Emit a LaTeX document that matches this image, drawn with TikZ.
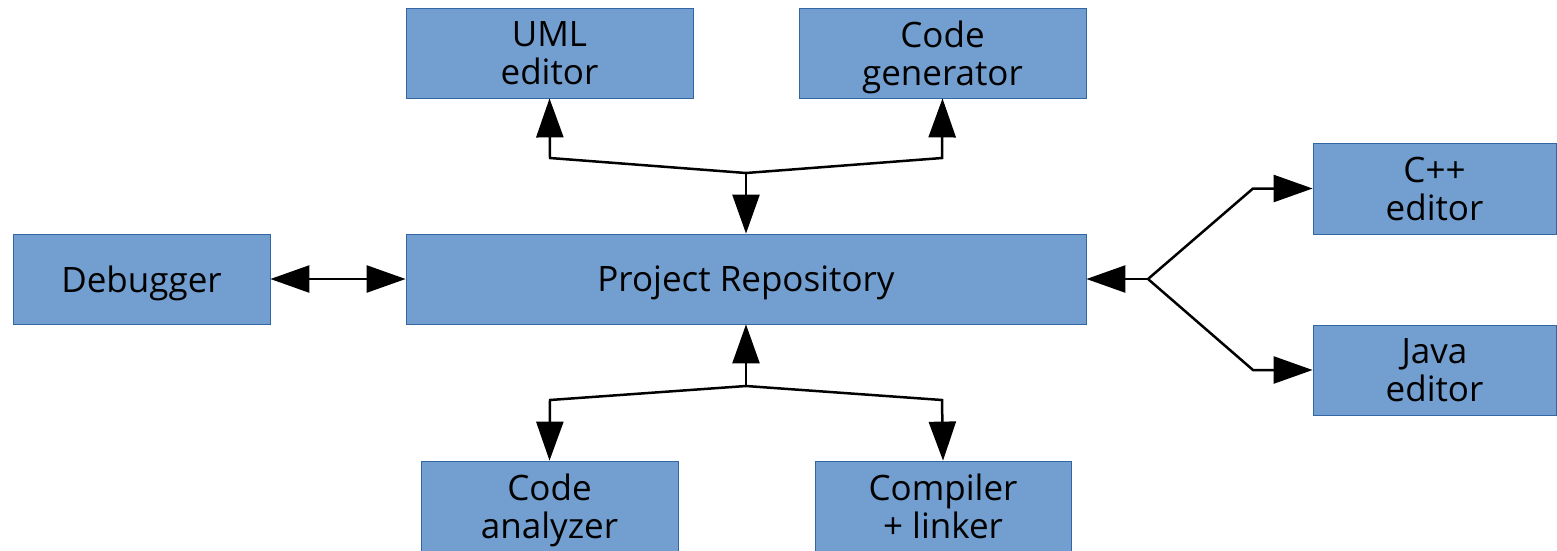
\documentclass[tikz,border=0pt]{standalone}
\usepackage{fontspec}
\setmainfont{Open Sans}
\usetikzlibrary{arrows.meta}
\definecolor{boxfill}{HTML}{729FCF}
\definecolor{boxline}{HTML}{3465A4}
\begin{document}
\begin{tikzpicture}[x=1pt,y=-1pt,
  box/.style={draw=boxline,line width=0.8pt,fill=boxfill,inner sep=0pt,
    align=center,font=\fontsize{35}{38}\selectfont,text=black,text depth=0pt},
  link/.style={line width=2.5pt,line join=miter},
  tip/.style={-{Triangle[length=39pt,width=27pt]}},
  tips/.style={{Triangle[length=39pt,width=27pt]}-{Triangle[length=39pt,width=27pt]}}]
\useasboundingbox (0,0) rectangle (1557,550);

% components
\node[box,minimum width=287pt,minimum height=90pt] (uml)  at (549.5,53)  {UML\\editor};
\node[box,minimum width=287pt,minimum height=90pt] (gen)  at (942.5,53)  {Code\\generator};
\node[box,minimum width=257pt,minimum height=90pt] (dbg)  at (141.5,279) {Debugger};
\node[box,minimum width=680pt,minimum height=90pt] (repo) at (746,279)   {Project Repository};
\node[box,minimum width=243pt,minimum height=91pt] (cpp)  at (1434.5,188.5) {C++\\editor};
\node[box,minimum width=243pt,minimum height=90pt] (java) at (1434.5,370) {Java\\editor};
\node[box,minimum width=257pt,minimum height=90pt] (ana)  at (549.5,506) {Code\\analyzer};
\node[box,minimum width=256pt,minimum height=90pt] (comp) at (943,506)   {Compiler\\+ linker};

% junction points of the connectors
\coordinate (jt) at (746,173);
\coordinate (jtl) at (550,158);
\coordinate (jtr) at (942,158);
\coordinate (jb) at (746,386);
\coordinate (jbl) at (550,400);
\coordinate (jbr) at (942,400);
\coordinate (jr) at (1148,279);
\coordinate (jru) at (1253,188.5);
\coordinate (jrd) at (1253,370);

% upper fan
\draw[link,tip] (jt) -- (repo.north);
\draw[link,tip] (jt) -- (jtl) -- (uml.south);
\draw[link,tip] (jt) -- (jtr) -- (gen.south);

% lower fan
\draw[link,tip] (jb) -- (repo.south);
\draw[link,tip] (jb) -- (jbl) -- (ana.north);
\draw[link,tip] (jb) -- (jbr) -- (comp.north);

% debugger
\draw[link,tips] (dbg.east) -- (repo.west);

% editors
\draw[link,tip] (jr) -- (repo.east);
\draw[link,tip] (jr) -- (jru) -- (cpp.west);
\draw[link,tip] (jr) -- (jrd) -- (java.west);
\end{tikzpicture}
\end{document}
